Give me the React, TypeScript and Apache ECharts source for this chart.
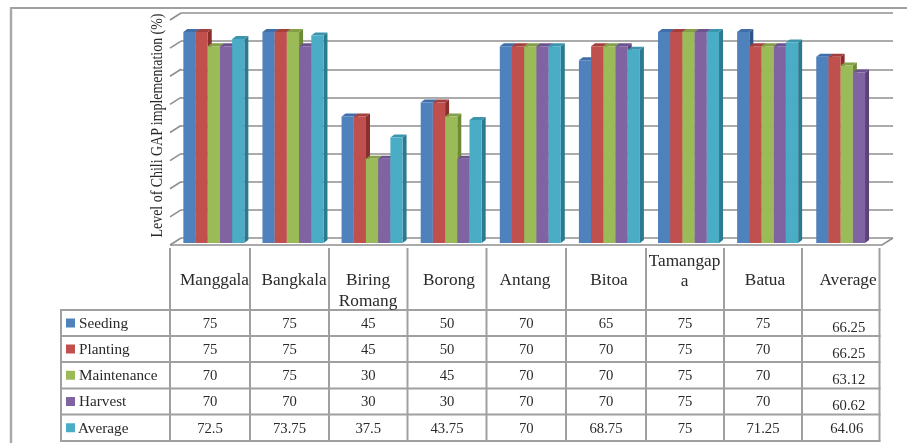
import React, { useEffect, useRef } from "react";
import * as echarts from "echarts";

const categories = ["Manggala", "Bangkala", "Biring\nRomang", "Borong", "Antang", "Bitoa", "Tamangap\na", "Batua", "Average"];
const seriesNames = ["Seeding", "Planting", "Maintenance", "Harvest", "Average"];
const seeding = [75, 75, 45, 50, 70, 65, 75, 75, 66.25];
const planting = [75, 75, 45, 50, 70, 70, 75, 70, 66.25];
const maintenance = [70, 75, 30, 45, 70, 70, 75, 70, 63.12];
const harvest = [70, 70, 30, 30, 70, 70, 75, 70, 60.62];
const average = [72.5, 73.75, 37.5, 43.75, 70, 68.75, 75, 71.25, 64.06];
const averageLabels = ["72.5", "73.75", "37.5", "43.75", "70", "68.75", "75", "71.25", "64.06"];
const yTicks = [0, 10, 20, 30, 40, 50, 60, 70, 80];
const frontColors = ["#4f81bd", "#c0504d", "#9bbb59", "#8064a2", "#4bacc6"];
const sideColors = ["#2f5486", "#8a2f2c", "#6d8a35", "#59427a", "#2b7b90"];
const topColors = ["#3f6ea8", "#a33f3c", "#83a048", "#6c5390", "#3a95ad"];

const rows = [seeding, planting, maintenance, harvest, average];
const SERIF = "'Liberation Serif', 'Times New Roman', serif";
const TEXT = "#2a2a2a";
const LINE = "#a0a0a0";
const colX = [170, 250, 329, 407.5, 486.5, 566, 646, 724, 802, 879.5];
const rowY = [310, 336, 362, 388.5, 414.5, 441];
const catCenter = [214.5, 294, 368, 449, 525, 609, 684.5, 765, 848];
const catY = [280, 280, 290, 280, 280, 280, 270.5, 280, 280];
const BAR_W = 12.2;
const DX = 4;
const DY = 3;

function label(text: string, x: number, y: number, font: string, align: string, scaleX: number, extra: any = {}) {
  return {
    type: "text", silent: true, x, y, scaleX,
    style: { text, x: 0, y: 0, align, verticalAlign: "middle", font, fill: TEXT, ...extra },
  };
}

function tableGraphics(): any[] {
  const out: any[] = [];
  const line = (x1: number, y1: number, x2: number, y2: number) =>
    out.push({ type: "line", silent: true, shape: { x1, y1, x2, y2 }, style: { stroke: LINE, lineWidth: 2 } });
  colX.forEach((x) => line(x, 248, x, 441));
  line(61, 310, 61, 441);
  rowY.forEach((y) => line(60, y, 880.5, y));
  categories.forEach((c, i) => {
    out.push(label(c, catCenter[i], catY[i], `16px ${SERIF}`, "center", 1.08, { lineHeight: 20.5 }));
  });
  seriesNames.forEach((n, r) => {
    const cy = (rowY[r] + rowY[r + 1]) / 2;
    out.push({ type: "rect", silent: true, shape: { x: 66, y: cy - 4.5, width: 9, height: 9 }, style: { fill: frontColors[r] } });
    out.push(label(n, r === 4 ? 78 : 79, cy, `14.5px ${SERIF}`, "left", 1.05));
    rows[r].forEach((v, c) => {
      const last = c === 8;
      const bodyOffset = last ? (r === 4 ? 6 : 8) : 0;
      const yOffset = last && r < 4 ? 4 : 0;
      out.push(
        label(
          r === 4 ? averageLabels[c] : String(v),
          (colX[c] + colX[c + 1]) / 2 + bodyOffset,
          cy + yOffset,
          `14px ${SERIF}`,
          "center",
          1.05,
        ),
      );
    });
  });
  return out;
}

function barSeries(idx: number, values: (number | null)[]) {
  return {
    type: "custom", name: seriesNames[idx], xAxisIndex: 0, yAxisIndex: 0, z: 5 + idx,
    clip: false,
    data: values.map((v, i) => [i, v]),
    renderItem: (_p: any, api: any) => {
      const v = api.value(1);
      if (v === null || v === undefined || isNaN(v)) return null;
      const [cx, top] = api.coord([api.value(0), v]);
      const [, base] = api.coord([api.value(0), 0]);
      const x = cx - (5 * BAR_W) / 2 + idx * BAR_W;
      const r = x + BAR_W;
      return {
        type: "group",
        children: [
          { type: "polygon", shape: { points: [[r, top], [r + DX, top - DY], [r + DX, base - DY], [r, base]] }, style: { fill: sideColors[idx] } },
          { type: "polygon", shape: { points: [[x, top], [x + DX, top - DY], [r + DX, top - DY], [r, top]] }, style: { fill: topColors[idx] } },
          { type: "rect", shape: { x, y: top, width: BAR_W, height: base - top }, style: { fill: frontColors[idx] } },
        ],
      };
    },
  };
}

export default function App() {
  const ref = useRef<HTMLDivElement>(null);
  useEffect(() => {
    const chart = echarts.init(ref.current!, undefined, { renderer: "svg" });
    chart.setOption({
      animation: false,
      backgroundColor: "#ffffff",
      grid: [
        { left: 174.3, top: 18, width: 712, height: 225, containLabel: false },
        { left: 181, top: 13, width: 712, height: 225, containLabel: false },
      ],
      xAxis: [
        { type: "category", gridIndex: 0, data: categories, show: false },
        { type: "value", gridIndex: 1, min: 0, max: 1, show: false },
      ],
      yAxis: [
        { type: "value", gridIndex: 0, min: 0, max: 80, interval: 10, show: false },
        {
          type: "value", gridIndex: 1, min: 0, max: 80, interval: 10,
          axisLine: { show: false }, axisTick: { show: false }, axisLabel: { show: false },
          splitLine: { show: true, lineStyle: { color: "#8f8f8f", width: 1.6 } },
        },
      ],
      series: [
        {
          type: "custom", xAxisIndex: 1, yAxisIndex: 1, z: 1, silent: true, clip: false,
          data: yTicks.map((t) => [0, t]),
          renderItem: (_p: any, api: any) => {
            const [x, y] = api.coord([0, api.value(1)]);
            return { type: "line", shape: { x1: x, y1: y, x2: x - 11, y2: y + 7 }, style: { stroke: "#8f8f8f", lineWidth: 1.6 } };
          },
        },
        {
          type: "custom", xAxisIndex: 1, yAxisIndex: 1, z: 1, silent: true, clip: false,
          data: [[1, 0]],
          renderItem: (_p: any, api: any) => {
            const [x, y] = api.coord([1, 0]);
            const [x0] = api.coord([0, 0]);
            return {
              type: "polyline",
              shape: { points: [[x, y], [x - 11, y + 7], [x0 - 11, y + 7]] },
              style: { fill: "none", stroke: "#8f8f8f", lineWidth: 1.6 },
            };
          },
        },
        ...rows.map((vals, i) => barSeries(i, i === 4 ? vals.map((v, c) => (c === 8 ? null : v)) : vals)),
      ],
      graphic: [
        { type: "line", silent: true, shape: { x1: 10, y1: 8, x2: 907, y2: 8 }, style: { stroke: LINE, lineWidth: 1.8 } },
        { type: "line", silent: true, shape: { x1: 11, y1: 8, x2: 11, y2: 443 }, style: { stroke: "#a8a8a8", lineWidth: 2.4 } },
        {
          type: "text", silent: true, x: 157, y: 125.5, rotation: Math.PI / 2, scaleX: 0.87,
          style: { text: "Level of Chili GAP implementation (%)", x: 0, y: 0, align: "center", verticalAlign: "middle", font: `16px ${SERIF}`, fill: TEXT },
        },
        ...tableGraphics(),
      ],
    });
    return () => chart.dispose();
  }, []);
  return <div ref={ref} style={{ width: 907, height: 443, position: "absolute", left: 0, top: 0, filter: "blur(0.45px)" }} />;
}
